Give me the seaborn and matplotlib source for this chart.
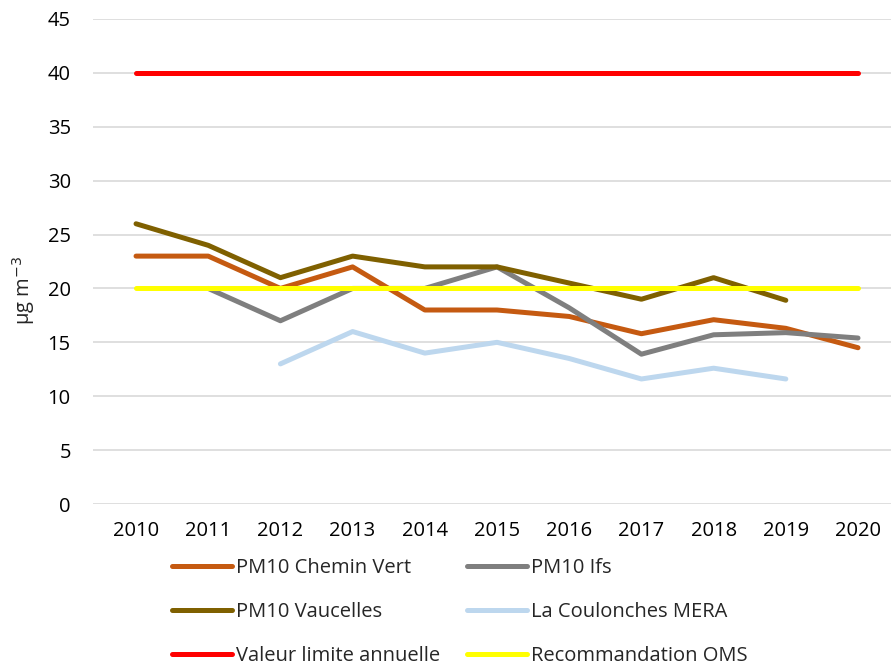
import numpy as np
import pandas as pd
import matplotlib
matplotlib.use("Agg")
import matplotlib.pyplot as plt
import seaborn as sns

# ── Data ──────────────────────────────────────────────────────────────────────
years = [2010, 2011, 2012, 2013, 2014, 2015, 2016, 2017, 2018, 2019, 2020]
chemin_vert = [23, 23, 20, 22, 18, 18, 17.4, 15.8, 17.1, 16.3, 14.5]
ifs = [np.nan, 20, 17, 20, 20, 22, 18.2, 13.9, 15.7, 15.9, 15.4]
vaucelles = [26, 24, 21, 23, 22, 22, 20.5, 19, 21, 18.9, np.nan]
coulonches = [np.nan, np.nan, 13, 16, 14, 15, 13.5, 11.6, 12.6, 11.6, np.nan]
valeur_limite = [40] * len(years)
reco_oms = [20] * len(years)

series = [
    ("PM10 Chemin Vert", chemin_vert, "#c55a11"),
    ("PM10 Ifs", ifs, "#7f7f7f"),
    ("PM10 Vaucelles", vaucelles, "#7f6000"),
    ("La Coulonches MERA", coulonches, "#bdd7ee"),
    ("Valeur limite annuelle", valeur_limite, "#ff0000"),
    ("Recommandation OMS", reco_oms, "#ffff00"),
]

sns.set_theme(style="white")
plt.rcParams["font.family"] = ["Open Sans", "DejaVu Sans"]
FS = 14.5

fig = plt.figure(figsize=(8.91, 6.7), dpi=100)
ax = fig.add_axes([93 / 891, 1 - 504 / 670, 798 / 891, 485 / 670])

x = np.arange(len(years))
handles = {}
for label, vals, color in series:
    df = pd.DataFrame({"x": x, "y": vals}).dropna()
    sns.lineplot(data=df, x="x", y="y", ax=ax, color=color, lw=3.6,
                 solid_capstyle="round", solid_joinstyle="round", label=label)
    handles[label] = ax.lines[-1]

ax.set_xlim(-0.596, 10.457)
ax.set_ylim(0, 45)
ax.set_yticks(range(0, 46, 5))
ax.set_xticks(x)
ax.set_xticklabels([str(y) for y in years])
ax.tick_params(axis="both", labelsize=FS, colors="black", length=0)
ax.tick_params(axis="x", pad=12)
ax.tick_params(axis="y", pad=16)
ax.grid(axis="y", color="#d9d9d9", lw=1.2)
ax.set_axisbelow(True)
for s in ax.spines.values():
    s.set_visible(False)
ax.set_xlabel("")
ax.set_ylabel("µg m$^{-3}$", fontsize=FS)
ax.yaxis.set_label_coords(-0.07, 0.44)
ax.get_legend().remove()

order = ["PM10 Chemin Vert", "PM10 Vaucelles", "Valeur limite annuelle",
         "PM10 Ifs", "La Coulonches MERA", "Recommandation OMS"]
fig.legend([handles[k] for k in order], order, ncol=2, frameon=False,
           loc="upper left", bbox_to_anchor=(172 / 891, 1 - 558 / 670),
           fontsize=FS, handlelength=3.0, handletextpad=0.2,
           labelspacing=1.2, columnspacing=1.3, borderpad=0, borderaxespad=0)

fig.savefig("out.png", dpi=100)
